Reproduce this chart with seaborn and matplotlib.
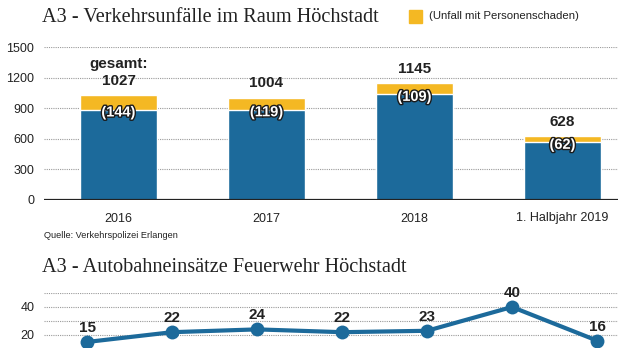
import matplotlib
matplotlib.use("Agg")
import matplotlib.pyplot as plt
import matplotlib.patheffects as pe
import seaborn as sns
import pandas as pd

# Accident statistics A3, Höchstadt area
years = ["2016", "2017", "2018", "1. Halbjahr 2019"]
total_accidents = [1027, 1004, 1145, 628]
injury_accidents = [144, 119, 109, 62]

# Fire brigade motorway call-outs
callout_idx = [0, 1, 2, 3, 4, 5, 6]
callouts = [15, 22, 24, 22, 23, 40, 16]

BLUE = "#1C6A9B"
YELLOW = "#F4B823"
GRID = "#9a9a9a"
TXT = "#222222"

sns.set_theme(style="white")
plt.rcParams["font.family"] = ["Liberation Sans Narrow", "Liberation Sans", "DejaVu Sans"]
SERIF = ["Liberation Serif", "DejaVu Serif"]
BOLD = ["Liberation Sans", "DejaVu Sans"]

fig = plt.figure(figsize=(6.18, 3.48), dpi=100)
W, H = 618, 348


def box(x0, y0, x1, y1):
    return [x0 / W, 1 - y1 / H, (x1 - x0) / W, (y1 - y0) / H]


# ---------- bar chart ----------
ax = fig.add_axes(box(44, 47, 618, 200))
df = pd.DataFrame({
    "Jahr": years,
    "gesamt": total_accidents,
    "ohne": [t - i for t, i in zip(total_accidents, injury_accidents)],
})
sns.barplot(data=df, x="Jahr", y="gesamt", color=YELLOW, width=0.52,
            saturation=1, ax=ax, zorder=3)
sns.barplot(data=df, x="Jahr", y="ohne", color=BLUE, width=0.52,
            saturation=1, ax=ax, zorder=3)
ax.set_xlim(-0.503, 3.375)
ax.set_ylim(0, 1500)
ax.set_yticks([0, 300, 600, 900, 1200, 1500])
ax.set_yticklabels(["0", "300", "600", "900", "1200", "1500"])
for yv in [300, 600, 900, 1200, 1500]:
    ax.axhline(yv, color=GRID, lw=0.8, ls=(0, (1, 1)), zorder=1)
ax.axhline(0, color="#222222", lw=1.6, zorder=4)
for s in ["top", "right", "left", "bottom"]:
    ax.spines[s].set_visible(False)
ax.set_xlabel("")
ax.set_ylabel("")
ax.tick_params(axis="y", length=0, pad=7, labelsize=9, labelcolor=TXT)
ax.tick_params(axis="x", length=0, pad=9, labelsize=9, labelcolor=TXT)
ax.set_xticks([0.5, 1.5, 2.5], minor=True)
ax.tick_params(axis="x", which="minor", direction="in", length=3, width=1.2,
               color="#222222")

for i, (t, inj) in enumerate(zip(total_accidents, injury_accidents)):
    ax.text(i, t + 70, f"{t}", ha="center", va="bottom", fontsize=11,
            fontweight="bold", color=TXT, zorder=5, family=BOLD)
    ax.text(i, t - inj - 25, f"({inj})", ha="center", va="center",
            fontsize=10.5, fontweight="bold", color="white", zorder=5,
            path_effects=[pe.withStroke(linewidth=2, foreground="#1a1a1a")])
ax.text(0, total_accidents[0] + 235, "gesamt:", ha="center", va="bottom",
        fontsize=11, fontweight="bold", color=TXT, family=BOLD)

# titles, legend and source
fig.text(42 / W, 1 - 17 / H, "A3 - Verkehrsunfälle im Raum Höchstadt",
         fontsize=14.6, family=SERIF, color=TXT, va="center")
fig.patches.append(plt.Rectangle((409 / W, 1 - 23 / H), 13 / W, 13 / H,
                                 transform=fig.transFigure, color=YELLOW))
fig.text(429 / W, 1 - 16 / H, "(Unfall mit Personenschaden)", fontsize=8.2,
         color=TXT, va="center")
fig.text(44 / W, 1 - 236 / H, "Quelle: Verkehrspolizei Erlangen",
         fontsize=6.6, color=TXT, va="center")
fig.text(42 / W, 1 - 268 / H, "A3 - Autobahneinsätze Feuerwehr Höchstadt",
         fontsize=14.6, family=SERIF, color=TXT, va="center")

# ---------- line chart ----------
ax2 = fig.add_axes(box(44, 293, 618, 348))
ldf = pd.DataFrame({"i": callout_idx, "n": callouts})
sns.lineplot(data=ldf, x="i", y="n", color=BLUE, lw=3, marker="o",
             markersize=10, markeredgewidth=0, ax=ax2, zorder=3, clip_on=False)
ax2.set_xlim(-0.506, 6.247)
ax2.set_ylim(10.7, 50)
for yv in [20, 30, 40, 50]:
    ax2.axhline(yv, color=GRID, lw=0.8, ls=(0, (1, 1)), zorder=1)
ax2.set_yticks([20, 40])
ax2.set_yticklabels(["20", "40"])
ax2.set_xticks([])
ax2.tick_params(axis="y", length=0, pad=7, labelsize=9, labelcolor=TXT)
for s in ["top", "right", "left", "bottom"]:
    ax2.spines[s].set_visible(False)
ax2.set_xlabel("")
ax2.set_ylabel("")
for i, v in zip(callout_idx, callouts):
    ax2.annotate(f"{v}", (i, v), xytext=(0, 5), textcoords="offset points",
                 ha="center", va="bottom", fontsize=11, fontweight="bold",
                 color=TXT, family=BOLD)

fig.savefig("out.png", dpi=100, facecolor="white")
